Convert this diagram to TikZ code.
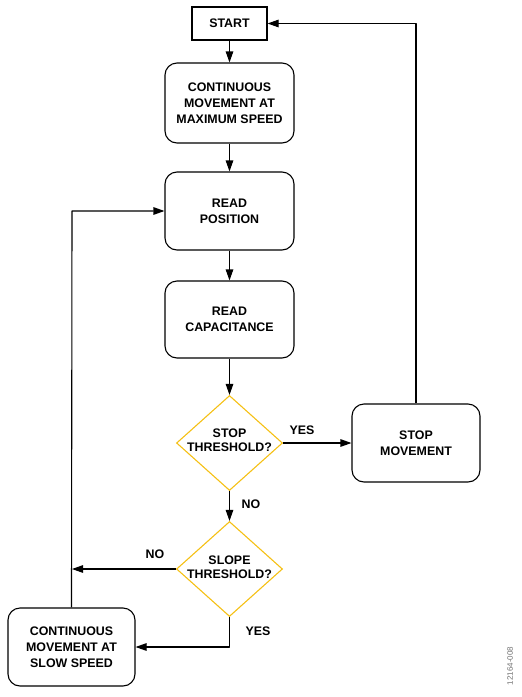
\documentclass[tikz,border=0pt]{standalone}
\usepackage{fontspec}
\setmainfont{Liberation Sans}
\usetikzlibrary{shapes.geometric,arrows.meta}
\definecolor{gold}{RGB}{245,192,20}
\tikzset{
  txt/.style={font=\bfseries\fontsize{12.4}{16}\selectfont},
  box/.style={draw, line width=1.1pt, rounded corners=12pt, minimum width=129pt, minimum height=78pt, align=center, txt, inner sep=0pt},
  sbox/.style={draw, line width=1.1pt, minimum width=75pt, minimum height=33pt, align=center, txt, inner sep=0pt},
  dec/.style={draw=gold, line width=1.1pt, diamond, minimum width=106pt, minimum height=95pt, inner sep=0pt},
  dtext/.style={align=center, font=\bfseries\fontsize{12.4}{14}\selectfont, inner sep=0pt},
  lab/.style={font=\bfseries\fontsize{12.4}{14}\selectfont, inner sep=0pt},
  conn/.style={line width=1.1pt, line join=round, -{Triangle[length=11pt,width=7.5pt]}},
}
\begin{document}
\begin{tikzpicture}[x=1pt,y=-1pt]
\useasboundingbox (0,0) rectangle (522,697);
\node[sbox] (start) at (229.5,23.5) {START};
\node[box, minimum height=80pt] (cmax) at (229.5,103) {CONTINUOUS\\MOVEMENT AT\\MAXIMUM SPEED};
\node[box] (rpos) at (229.5,211) {READ\\POSITION};
\node[box, minimum height=77pt] (rcap) at (229.5,319.5) {READ\\CAPACITANCE};
\node[dec] (dstop) at (229.5,443) {};
\node[dtext] (tstop) at (229.5,440) {STOP\\THRESHOLD?};
\node[box, minimum width=128pt] (smov) at (416,443) {STOP\\MOVEMENT};
\node[dec] (dslope) at (229.5,569) {};
\node[dtext] (tslope) at (229.5,567) {SLOPE\\THRESHOLD?};
\node[box, minimum width=127pt] (slow) at (71.5,647) {CONTINUOUS\\MOVEMENT AT\\SLOW SPEED};
\coordinate (j1) at (72,569);
\coordinate (c1) at (416,23.5);
\coordinate (c2) at (229.5,647);
\coordinate (c3) at (72,211);

\draw[conn] (start) -- (cmax);
\draw[conn] (cmax) -- (rpos);
\draw[conn] (rpos) -- (rcap);
\draw[conn] (rcap) -- (dstop);
\draw[conn] (dstop) -- (smov);
\draw[conn] (smov.north) -- (c1) -- (start.east);
\draw[conn] (dstop) -- (dslope);
\draw[conn] (dslope.west) -- (j1);
\draw[conn] (dslope.south) -- (c2) -- (slow.east);
\draw[conn] (slow.north) -- (c3) -- (rpos.west);

\node[lab] (yes1) at (302,430) {YES};
\node[lab] (no1) at (251,504) {NO};
\node[lab] (no2) at (155,554) {NO};
\node[lab] (yes2) at (258,631) {YES};
\node[rotate=90, text=black!55, font=\fontsize{8}{9}\selectfont, inner sep=0pt] (fig) at (510,666) {12164-008};
\end{tikzpicture}
\end{document}
